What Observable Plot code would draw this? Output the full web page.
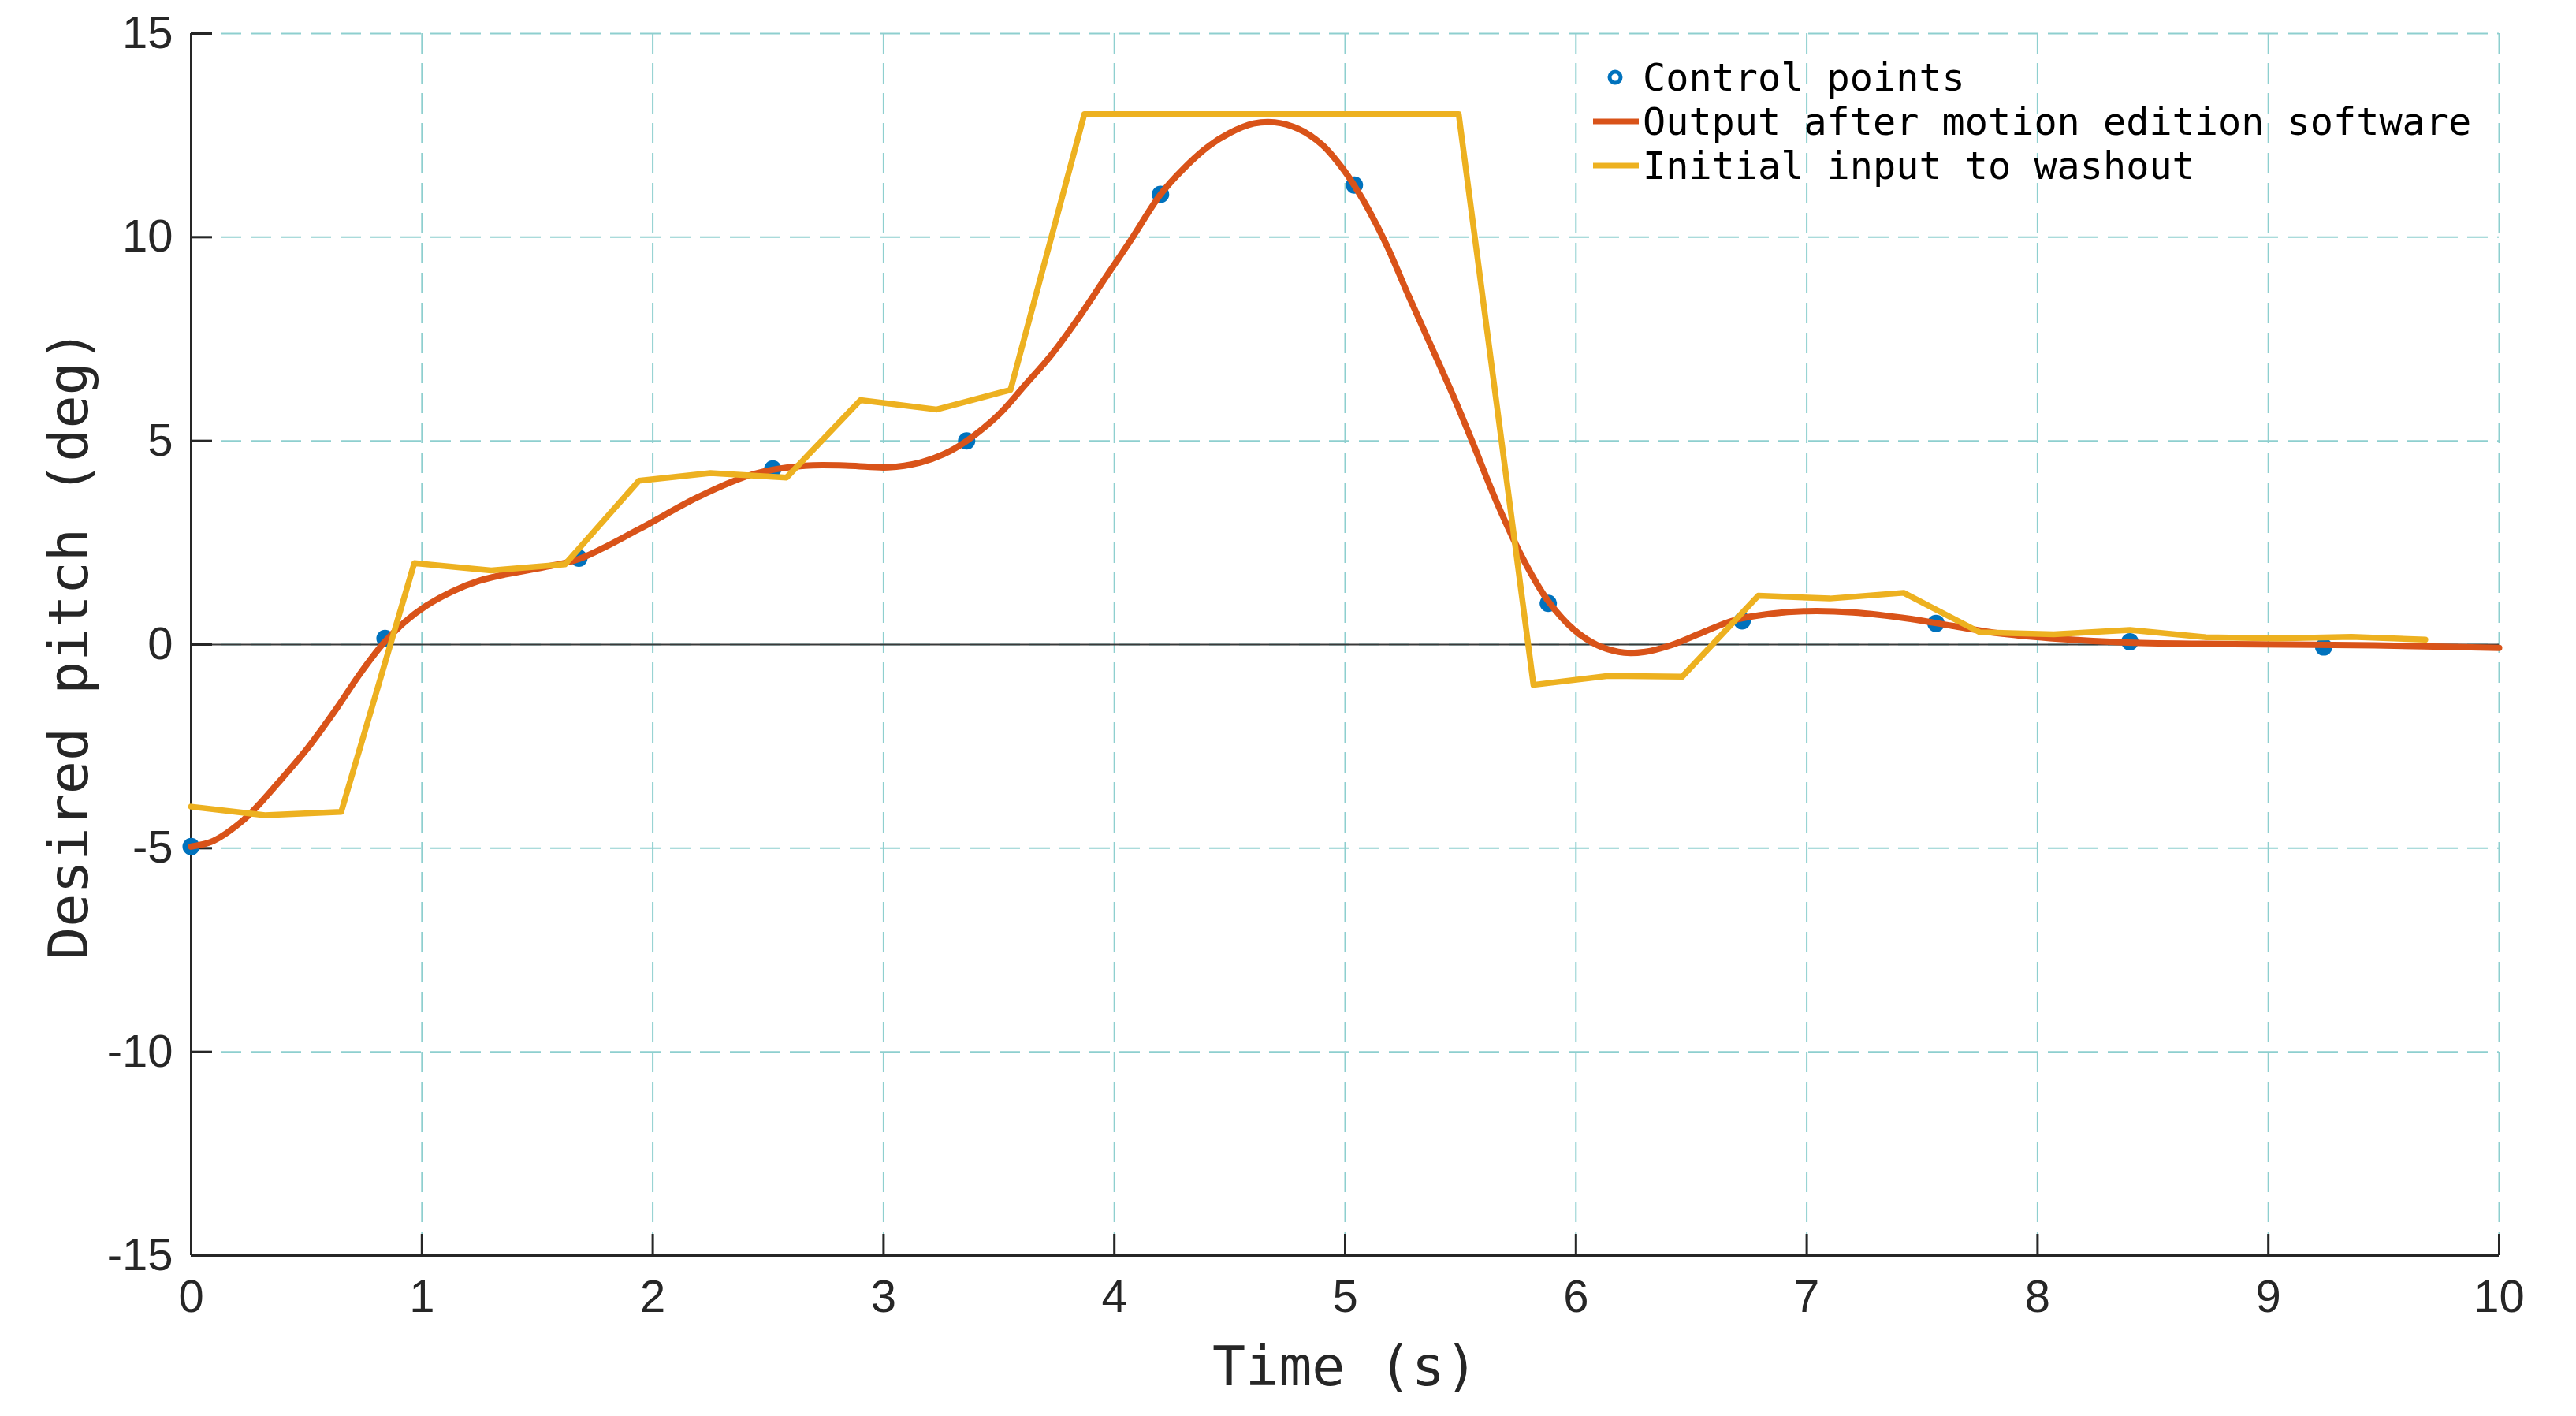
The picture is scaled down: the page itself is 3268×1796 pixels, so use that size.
<!DOCTYPE html>
<html>
<head>
<meta charset="utf-8">
<script src="https://cdn.jsdelivr.net/npm/d3@7"></script>
<script src="https://cdn.jsdelivr.net/npm/@observablehq/plot@0.6"></script>
<style>
html, body { margin: 0; padding: 0; background: #fff; }
#wrap { position: relative; width: 3268px; height: 1796px; background: #fff; }
#legend { position: absolute; left: 0; top: 0; width: 3268px; height: 300px; pointer-events: none; }
.lg-row { position: absolute; left: 2084px; font-family: "DejaVu Sans Mono", "Liberation Mono", monospace; font-size: 48.5px; color: #000; line-height: 56px; white-space: pre; }
</style>
</head>
<body>
<div id="wrap"><div id="legend"></div></div>
<script>
// ---- Data ----
const seriesNames = ["Control points", "Output after motion edition software", "Initial input to washout"];
const seriesColors = ["#0072BD", "#D95319", "#EDB120"];

const xTicks = [0, 1, 2, 3, 4, 5, 6, 7, 8, 9, 10];
const yTicks = [-15, -10, -5, 0, 5, 10, 15];

// Control points
const ctrlT = [0, 0.84, 1.68, 2.52, 3.36, 4.2, 5.04, 5.88, 6.72, 7.56, 8.4, 9.24];
const ctrlV = [-4.96, 0.15, 2.12, 4.31, 5.0, 11.05, 11.28, 1.01, 0.58, 0.52, 0.07, -0.06];

// Output after motion edition software
const outT = [0, 0.096, 0.22, 0.3, 0.39, 0.505, 0.63, 0.73, 0.836, 0.927, 1.018, 1.13, 1.245, 1.36, 1.53, 1.68, 1.94, 2.2, 2.44, 2.66, 2.85, 3.02, 3.16, 3.26, 3.36, 3.5, 3.613, 3.727, 3.84, 3.955, 4.068, 4.2, 4.296, 4.41, 4.5, 4.603, 4.695, 4.797, 4.9, 4.99, 5.036, 5.104, 5.18, 5.275, 5.377, 5.48, 5.548, 5.66, 5.776, 5.878, 5.99, 6.095, 6.209, 6.3, 6.41, 6.55, 6.687, 6.85, 7.0, 7.2, 7.45, 7.63, 7.84, 8.09, 8.39, 8.85, 9.46, 10.0];
const outV = [-4.96, -4.82, -4.34, -3.89, -3.31, -2.54, -1.57, -0.73, 0.05, 0.56, 0.95, 1.3, 1.56, 1.72, 1.9, 2.1, 2.83, 3.63, 4.19, 4.39, 4.39, 4.35, 4.47, 4.67, 5.0, 5.65, 6.37, 7.11, 7.98, 8.95, 9.9, 11.05, 11.66, 12.24, 12.56, 12.79, 12.82, 12.66, 12.27, 11.68, 11.3, 10.65, 9.8, 8.56, 7.27, 5.95, 5.02, 3.45, 2.05, 1.08, 0.37, -0.02, -0.2, -0.18, -0.02, 0.3, 0.6, 0.76, 0.82, 0.79, 0.63, 0.46, 0.27, 0.14, 0.05, 0.01, -0.02, -0.08];

// Initial input to washout
const inT = [0, 0.32, 0.65, 0.967, 1.3, 1.62, 1.94, 2.25, 2.58, 2.9, 3.23, 3.55, 3.87, 5.492, 5.816, 6.14, 6.46, 6.79, 7.1, 7.42, 7.75, 8.07, 8.4, 8.73, 9.04, 9.36, 9.68];
const inV = [-3.98, -4.19, -4.11, 2.0, 1.82, 1.97, 4.02, 4.21, 4.1, 6.0, 5.77, 6.25, 13.02, 13.02, -0.99, -0.77, -0.79, 1.2, 1.13, 1.27, 0.3, 0.25, 0.36, 0.18, 0.15, 0.19, 0.12];

const xLabel = "Time (s)";
const yLabel = "Desired pitch (deg)";

// ---- Build tables ----
const ctrl = ctrlT.map((t, i) => ({t, v: ctrlV[i]}));
const out = outT.map((t, i) => ({t, v: outV[i]}));
const inp = inT.map((t, i) => ({t, v: inV[i]}));

const W = 3268, H = 1796;
const mL = 242, mR = 98, mT = 42, mB = 204;
const plotW = W - mL - mR, plotH = H - mT - mB;
const axisColor = "#262626";
const gridColor = "#8ecfcf";
const mono = "'DejaVu Sans Mono', 'Liberation Mono', monospace";

const chart = Plot.plot({
  width: W,
  height: H,
  marginLeft: mL,
  marginRight: mR,
  marginTop: mT,
  marginBottom: mB,
  style: {fontFamily: "'Liberation Sans', Arial, sans-serif", fontSize: "58px", color: axisColor, background: "#fff", overflow: "visible"},
  x: {domain: [0, 10]},
  y: {domain: [-15, 15]},
  marks: [
    Plot.gridX(xTicks, {stroke: gridColor, strokeOpacity: 1, strokeWidth: 2, strokeDasharray: "26,12"}),
    Plot.gridY(yTicks, {stroke: gridColor, strokeOpacity: 1, strokeWidth: 2, strokeDasharray: "26,12"}),
    Plot.ruleY([0], {stroke: "#3a3a3a", strokeWidth: 2}),
    Plot.ruleX([0], {stroke: axisColor, strokeWidth: 3}),
    Plot.ruleY([-15], {stroke: axisColor, strokeWidth: 3}),
    Plot.tickX(xTicks, {x: d => d, insetTop: plotH - 27, stroke: axisColor, strokeWidth: 3}),
    Plot.tickY(yTicks, {y: d => d, insetRight: plotW - 27, stroke: axisColor, strokeWidth: 3}),
    Plot.axisX(xTicks, {tickSize: 0, tickPadding: 30, label: null, tickFormat: d => String(d), fontSize: 58}),
    Plot.axisY(yTicks, {tickSize: 0, tickPadding: 23, label: null, tickFormat: d => String(d), fontSize: 58}),
    Plot.dot(ctrl, {x: "t", y: "v", r: 8, fill: seriesColors[0], stroke: seriesColors[0], strokeWidth: 6}),
    Plot.line(out, {x: "t", y: "v", stroke: seriesColors[1], strokeWidth: 8, curve: "catmull-rom"}),
    Plot.line(inp, {x: "t", y: "v", stroke: seriesColors[2], strokeWidth: 7.5, strokeLinejoin: "round"}),
    Plot.text([xLabel], {frameAnchor: "bottom", dy: 142, lineAnchor: "middle", textAnchor: "middle", fontFamily: mono, fontSize: 70, fill: axisColor}),
    Plot.text([yLabel], {frameAnchor: "left", dx: -154, rotate: -90, lineAnchor: "middle", textAnchor: "middle", fontFamily: mono, fontSize: 70, fill: axisColor})
  ]
});
document.getElementById("wrap").insertBefore(chart, document.getElementById("legend"));
chart.style.position = "absolute";
chart.style.left = "0";
chart.style.top = "0";

// ---- Legend (inside the axes, top right) ----
const legend = document.getElementById("legend");
const rowY = [98, 154, 210];
seriesNames.forEach((name, i) => {
  const sw = document.createElementNS("http://www.w3.org/2000/svg", "svg");
  sw.setAttribute("width", "70");
  sw.setAttribute("height", "30");
  sw.style.position = "absolute";
  sw.style.left = "2015px";
  sw.style.top = (rowY[i] - 15) + "px";
  if (i === 0) {
    const c = document.createElementNS("http://www.w3.org/2000/svg", "circle");
    c.setAttribute("cx", "34"); c.setAttribute("cy", "15"); c.setAttribute("r", "7");
    c.setAttribute("fill", "none"); c.setAttribute("stroke", seriesColors[0]); c.setAttribute("stroke-width", "5");
    sw.appendChild(c);
  } else {
    const l = document.createElementNS("http://www.w3.org/2000/svg", "line");
    l.setAttribute("x1", "6"); l.setAttribute("x2", "64"); l.setAttribute("y1", "15"); l.setAttribute("y2", "15");
    l.setAttribute("stroke", seriesColors[i]); l.setAttribute("stroke-width", "7");
    sw.appendChild(l);
  }
  legend.appendChild(sw);
  const d = document.createElement("div");
  d.className = "lg-row";
  d.style.top = (rowY[i] - 28) + "px";
  d.textContent = name;
  legend.appendChild(d);
});
</script>
</body>
</html>
